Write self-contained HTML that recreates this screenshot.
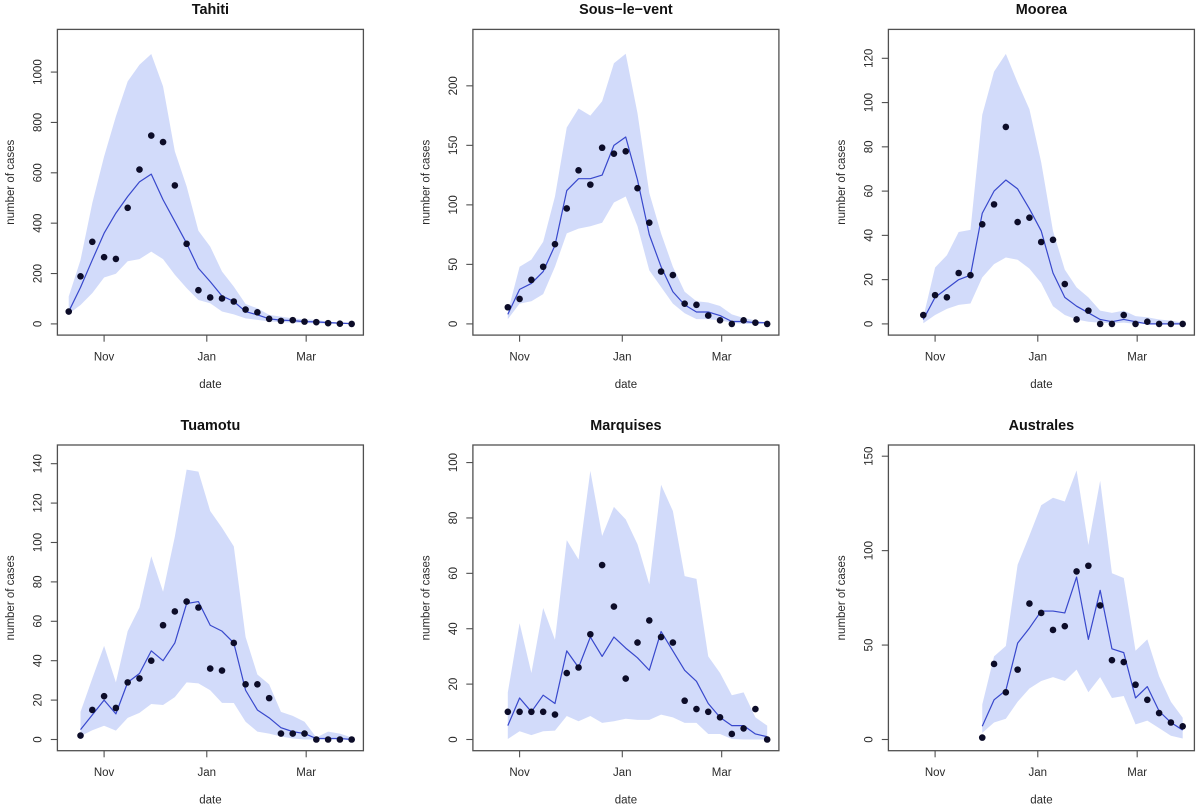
<!DOCTYPE html>
<html lang="en">
<head>
<meta charset="utf-8">
<title>Cases by archipelago</title>
<style>
html,body{margin:0;padding:0;background:#fff;}
svg{display:block;filter:blur(0.35px);}
text{font-family:"Liberation Sans",Arial,sans-serif;fill:#2a2a2a;}
</style>
</head>
<body>
<svg id="chart" xmlns="http://www.w3.org/2000/svg" width="1200" height="808" viewBox="0 0 1200 808"></svg>
<script>
// ---- shared axis data ----
const monthLabels = ["Nov", "Jan", "Mar"];
const monthWeeks = [3, 11.71, 20.14];

// ---- Tahiti ----
const tahitiStart = 0;
const tahitiYMax = 1125;
const tahitiTicks = [0, 200, 400, 600, 800, 1000];
const tahitiObserved = [49,189,326,265,258,461,613,748,722,550,318,134,105,101,89,57,46,20,12,15,9,7,3,1,0];
const tahitiMedian = [49,145,254,360,440,506,564,595,493,407,320,221,168,111,89,49,36,20,15,13,9,8,5,3,1];
const tahitiUpper = [109,254,480,665,824,963,1029,1072,943,685,546,370,307,208,148,79,62,36,29,22,18,16,9,5,3];
const tahitiLower = [40,75,122,184,199,249,257,287,257,195,142,95,82,49,38,22,16,10,7,5,3,2,1,0,0];

// ---- Sous-le-vent ----
const sousStart = 2;
const sousYMax = 238;
const sousTicks = [0, 50, 100, 150, 200];
const sousObserved = [14,21,37,48,67,97,129,117,148,143,145,114,85,44,41,17,16,7,3,0,3,1,0];
const sousMedian = [8,29,34,44,66,112,122,122,125,150,157,121,75,48,27,16,10,10,7,2,2,1,1];
const sousUpper = [10,48,54,69,107,165,181,175,187,219,227,177,110,76,48,27,19,18,15,8,5,3,1];
const sousLower = [4,17,19,25,48,76,80,82,85,102,107,82,45,31,17,9,4,4,3,1,0,0,0];

// ---- Moorea ----
const mooreaStart = 2;
const mooreaYMax = 128;
const mooreaTicks = [0, 20, 40, 60, 80, 100, 120];
const mooreaObserved = [4,13,12,23,22,45,54,89,46,48,37,38,18,2,6,0,0,4,0,1,0,0,0];
const mooreaMedian = [2,12,16,20,22,50,60,65,61,52,42,23,12,8,5,2,1,2,1,0,0,0,0];
const mooreaUpper = [3,25.5,31,41.5,42.5,94.5,114,122,109,97,73,42,24.5,16.5,12,6,5,6,3.5,3,2,1.5,0.6];
const mooreaLower = [0.3,4,6.8,8.6,9.2,21,27,30,29,25,18.5,8,4,2,1,0.5,0.3,0.6,0,0,0,0,0];

// ---- Tuamotu ----
const tuamotuStart = 1;
const tuamotuYMax = 143.8;
const tuamotuTicks = [0, 20, 40, 60, 80, 100, 120, 140];
const tuamotuObserved = [2,15,22,16,29,31,40,58,65,70,67,36,35,49,28,28,21,3,3,3,0,0,0,0];
const tuamotuMedian = [5,12.5,20,13,29,33.5,45,40,49,69,70,58,55,49,25,15,11,6,4,3,0.5,0.5,0.5,0];
const tuamotuUpper = [14,31,47.5,29,55,67,93,75,103,137,136,116,107.5,98,52,33,28,14,12,9,1,4,3,1];
const tuamotuLower = [1.7,4.7,7,4.5,11,13.5,18,17.5,21.5,29,28.5,25,18.6,18.5,9,4,3,1.5,0.5,0,0,0,0,0];

// ---- Marquises ----
const marquisesStart = 2;
const marquisesYMax = 102.3;
const marquisesTicks = [0, 20, 40, 60, 80, 100];
const marquisesObserved = [10,10,10,10,9,24,26,38,63,48,22,35,43,37,35,14,11,10,8,2,4,11,0];
const marquisesMedian = [5,15,10,16,13,32,26,37,30,37,33,29.5,25,39,32,25,21,13,8,5,5,2,1];
const marquisesUpper = [17,42,24,47.5,36,72,65,97,73.5,84,79.5,70.5,56,92,82.5,59,58,30,24,16,17,8,5];
const marquisesLower = [0.2,3,1.6,3,3.2,8.5,6.6,8.5,6,6.6,7.5,7.1,7.1,9,8,6,6,2,2,0.2,0,0,0];

// ---- Australes ----
const australesStart = 7;
const australesYMax = 150;
const australesTicks = [0, 50, 100, 150];
const australesObserved = [1,40,25,37,72,67,58,60,89,92,71,42,41,29,21,14,9,7];
const australesMedian = [7,21,26,51,59,68,68,67,86,53,79,48,46,22,28,15,9,5];
const australesUpper = [18.5,44,49.5,92.5,108,124,128,126,142.5,103,137,88,85.5,47,53,33.5,20,11.5];
const australesLower = [3.5,9,11,20,27,31,33,31,37,25,33,22,23,8,10,6,2,0.5];

// ---- panel wiring ----
const panelTitles = ["Tahiti", "Sous\u2212le\u2212vent", "Moorea", "Tuamotu", "Marquises", "Australes"];
const panelSlugs = ["tahiti", "sous-le-vent", "moorea", "tuamotu", "marquises", "australes"];
const panelStarts = [tahitiStart, sousStart, mooreaStart, tuamotuStart, marquisesStart, australesStart];
const panelYMaxes = [tahitiYMax, sousYMax, mooreaYMax, tuamotuYMax, marquisesYMax, australesYMax];
const panelTicks = [tahitiTicks, sousTicks, mooreaTicks, tuamotuTicks, marquisesTicks, australesTicks];
const panelObserved = [tahitiObserved, sousObserved, mooreaObserved, tuamotuObserved, marquisesObserved, australesObserved];
const panelMedian = [tahitiMedian, sousMedian, mooreaMedian, tuamotuMedian, marquisesMedian, australesMedian];
const panelUpper = [tahitiUpper, sousUpper, mooreaUpper, tuamotuUpper, marquisesUpper, australesUpper];
const panelLower = [tahitiLower, sousLower, mooreaLower, tuamotuLower, marquisesLower, australesLower];

// ---- drawing ----
const NS = "http://www.w3.org/2000/svg";
const svg = document.getElementById("chart");
const BOX_W = 306;
const BOX_H = 305.7;
const X_PAD = 11.33;
const WEEK_W = 11.79;
const Y_PAD = 11.2;
const LABEL_SIZE = 11.5;

function make(tag, attrs, parent) {
  const el = document.createElementNS(NS, tag);
  for (const k in attrs) el.setAttribute(k, attrs[k]);
  parent.appendChild(el);
  return el;
}
function xScale(left, week) {
  return left + X_PAD + week * WEEK_W;
}
function yScale(top, yMax, value) {
  return top + BOX_H - Y_PAD - value * (BOX_H - 2 * Y_PAD) / yMax;
}

panelTitles.forEach(function (title, p) {
  const col = p % 3;
  const row = Math.floor(p / 3);
  const left = 57.4 + col * 415.5;
  const top = 29.4 + row * 415.6;
  const right = left + BOX_W;
  const bottom = top + BOX_H;
  const midX = left + BOX_W / 2;
  const midY = top + BOX_H / 2;
  const start = panelStarts[p];
  const yMax = panelYMaxes[p];
  const slug = panelSlugs[p];
  const px = function (i) { return xScale(left, start + i).toFixed(2); };
  const py = function (v) { return yScale(top, yMax, v).toFixed(2); };

  const g = make("g", {}, svg);
  
  

  // uncertainty band
  const upperPts = panelUpper[p].map(function (v, i) { return px(i) + "," + py(v); });
  const lowerPts = panelLower[p].map(function (v, i) { return px(i) + "," + py(v); }).reverse();
  const band = make("polygon", { points: upperPts.concat(lowerPts).join(" "), fill: "#d2dbfa", stroke: "none" }, g);
  
  

  // median line
  const linePts = panelMedian[p].map(function (v, i) { return px(i) + "," + py(v); }).join(" ");
  const line = make("polyline", { points: linePts, fill: "none", stroke: "#3848cc", "stroke-width": 1.2, "stroke-linejoin": "round" }, g);
  
  

  // observed points
  panelObserved[p].forEach(function (v, i) {
    const dot = make("circle", { cx: px(i), cy: py(v), r: 3.3, fill: "#0c0c28" }, g);
    
    
  });

  // plot frame
  const frame = make("rect", { x: left, y: top, width: BOX_W, height: BOX_H, fill: "none", stroke: "#505050", "stroke-width": 1.3 }, g);
  
  

  // x ticks
  monthWeeks.forEach(function (week, i) {
    const x = xScale(left, week);
    const tick = make("line", { x1: x, x2: x, y1: bottom, y2: bottom + 6.6, stroke: "#505050", "stroke-width": 1.1 }, g);
    
    
    const lab = make("text", { x: x, y: bottom + 25.5, "text-anchor": "middle", "font-size": LABEL_SIZE }, g);
    lab.textContent = monthLabels[i];
    
    
  });

  // y ticks
  panelTicks[p].forEach(function (v) {
    const y = yScale(top, yMax, v);
    const tick = make("line", { x1: left - 6.6, x2: left, y1: y, y2: y, stroke: "#505050", "stroke-width": 1.1 }, g);
    
    
    const lab = make("text", { transform: "translate(" + (left - 15.8) + "," + y + ") rotate(-90)", "text-anchor": "middle", "font-size": LABEL_SIZE }, g);
    lab.textContent = String(v);
    
    
  });

  // titles
  const t = make("text", { x: midX, y: top - 15.2, "text-anchor": "middle", "font-size": 14.4, "font-weight": "bold", style: "fill:#111" }, g);
  t.textContent = title;
  
  

  const xt = make("text", { x: midX, y: bottom + 52.8, "text-anchor": "middle", "font-size": LABEL_SIZE }, g);
  xt.textContent = "date";
  
  

  const yt = make("text", { transform: "translate(" + (left - 43.2) + "," + midY + ") rotate(-90)", "text-anchor": "middle", "font-size": LABEL_SIZE }, g);
  yt.textContent = "number of cases";
  
  
});
</script>
</body>
</html>
